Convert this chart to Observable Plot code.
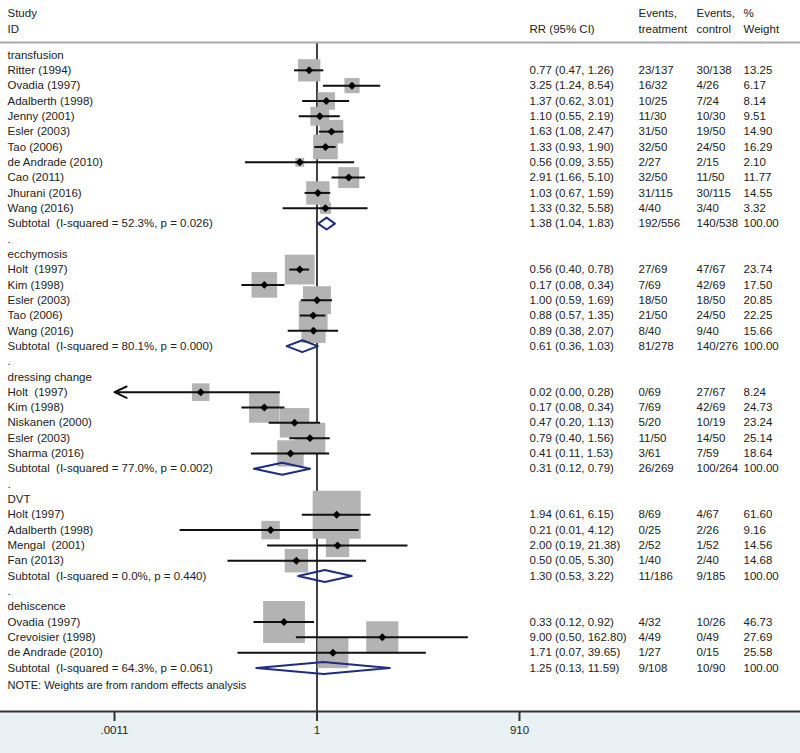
<!DOCTYPE html>
<html><head><meta charset="utf-8">
<script src="https://cdn.jsdelivr.net/npm/d3@7"></script>
<script src="https://cdn.jsdelivr.net/npm/@observablehq/plot@0.6"></script>
<style>
html,body{margin:0;padding:0;background:#fff;}
#chart svg text{white-space:pre;}
</style></head><body><div id="chart"></div>
<script>
// ---------- data ----------
const groupNames = ["transfusion", "ecchymosis", "dressing change", "DVT", "dehiscence"];
const studyNames = [
  ["Ritter (1994)", "Ovadia (1997)", "Adalberth (1998)", "Jenny (2001)", "Esler (2003)", "Tao (2006)", "de Andrade (2010)", "Cao (2011)", "Jhurani (2016)", "Wang (2016)"],
  ["Holt  (1997)", "Kim (1998)", "Esler (2003)", "Tao (2006)", "Wang (2016)"],
  ["Holt  (1997)", "Kim (1998)", "Niskanen (2000)", "Esler (2003)", "Sharma (2016)"],
  ["Holt (1997)", "Adalberth (1998)", "Mengal  (2001)", "Fan (2013)"],
  ["Ovadia (1997)", "Crevoisier (1998)", "de Andrade (2010)"]
];
const studyRR = [
  [0.77, 3.25, 1.37, 1.10, 1.63, 1.33, 0.56, 2.91, 1.03, 1.33],
  [0.56, 0.17, 1.00, 0.88, 0.89],
  [0.02, 0.17, 0.47, 0.79, 0.41],
  [1.94, 0.21, 2.00, 0.50],
  [0.33, 9.00, 1.71]
];
const studyLo = [
  [0.47, 1.24, 0.62, 0.55, 1.08, 0.93, 0.09, 1.66, 0.67, 0.32],
  [0.40, 0.08, 0.59, 0.57, 0.38],
  [0.00, 0.08, 0.20, 0.40, 0.11],
  [0.61, 0.01, 0.19, 0.05],
  [0.12, 0.50, 0.07]
];
const studyHi = [
  [1.26, 8.54, 3.01, 2.19, 2.47, 1.90, 3.55, 5.10, 1.59, 5.58],
  [0.78, 0.34, 1.69, 1.35, 2.07],
  [0.28, 0.34, 1.13, 1.56, 1.53],
  [6.15, 4.12, 21.38, 5.30],
  [0.92, 162.80, 39.65]
];
const studyTreat = [
  ["23/137", "16/32", "10/25", "11/30", "31/50", "32/50", "2/27", "32/50", "31/115", "4/40"],
  ["27/69", "7/69", "18/50", "21/50", "8/40"],
  ["0/69", "7/69", "5/20", "11/50", "3/61"],
  ["8/69", "0/25", "2/52", "1/40"],
  ["4/32", "4/49", "1/27"]
];
const studyCtrl = [
  ["30/138", "4/26", "7/24", "10/30", "19/50", "24/50", "2/15", "11/50", "30/115", "3/40"],
  ["47/67", "42/69", "18/50", "24/50", "9/40"],
  ["27/67", "42/69", "10/19", "14/50", "7/59"],
  ["4/67", "2/26", "1/52", "2/40"],
  ["10/26", "0/49", "0/15"]
];
const studyWeight = [
  [13.25, 6.17, 8.14, 9.51, 14.90, 16.29, 2.10, 11.77, 14.55, 3.32],
  [23.74, 17.50, 20.85, 22.25, 15.66],
  [8.24, 24.73, 23.24, 25.14, 18.64],
  [61.60, 9.16, 14.56, 14.68],
  [46.73, 27.69, 25.58]
];
const subLabels = [
  "Subtotal  (I-squared = 52.3%, p = 0.026)",
  "Subtotal  (I-squared = 80.1%, p = 0.000)",
  "Subtotal  (I-squared = 77.0%, p = 0.002)",
  "Subtotal  (I-squared = 0.0%, p = 0.440)",
  "Subtotal  (I-squared = 64.3%, p = 0.061)"
];
const subRR = [1.38, 0.61, 0.31, 1.30, 1.25];
const subLo = [1.04, 0.36, 0.12, 0.53, 0.13];
const subHi = [1.83, 1.03, 0.79, 3.22, 11.59];
const subTreat = ["192/556", "81/278", "26/269", "11/186", "9/108"];
const subCtrl = ["140/538", "140/276", "100/264", "9/185", "10/90"];
const subWeight = [100, 100, 100, 100, 100];
const noteText = "NOTE: Weights are from random effects analysis";
const headTop = ["Study", "", "Events,", "Events,", "%"];
const headBottom = ["ID", "RR (95% CI)", "treatment", "control", "Weight"];
const xTicks = [0.0011, 1, 910];
const xTickLabels = [".0011", "1", "910"];

// ---------- build rows ----------
const rows = [];
let idx = 0;
groupNames.forEach((g, gi) => {
  if (gi > 0) rows.push({i: idx++, type: "spacer", label: "."});
  rows.push({i: idx++, type: "group", label: g});
  studyNames[gi].forEach((s, k) => rows.push({
    i: idx++, type: "study", label: s, g: gi,
    rr: studyRR[gi][k], lo: studyLo[gi][k], hi: studyHi[gi][k],
    t: studyTreat[gi][k], c: studyCtrl[gi][k], w: studyWeight[gi][k]
  }));
  rows.push({
    i: idx++, type: "sub", label: subLabels[gi], g: gi,
    rr: subRR[gi], lo: subLo[gi], hi: subHi[gi],
    t: subTreat[gi], c: subCtrl[gi], w: subWeight[gi]
  });
});
const fmt = v => v.toFixed(2);
rows.forEach(r => {
  if (r.type === "study" || r.type === "sub") {
    r.ci = `${fmt(r.rr)} (${fmt(r.lo)}, ${fmt(r.hi)})`;
    r.wt = fmt(r.w);
  }
});
const xMin = xTicks[0];
const studies = rows.filter(r => r.type === "study");
const normal = studies.filter(r => r.lo >= xMin);
const clipped = studies.filter(r => r.lo < xMin);
const subs = rows.filter(r => r.type === "sub");
const numRows = rows.filter(r => r.type === "study" || r.type === "sub");
const halfH = 0.39;
const diamondPts = subs.flatMap(s => [
  {g: s.g, x: s.lo, y: s.i},
  {g: s.g, x: s.rr, y: s.i - halfH},
  {g: s.g, x: s.hi, y: s.i},
  {g: s.g, x: s.rr, y: s.i + halfH},
  {g: s.g, x: s.lo, y: s.i}
]);
const tickData = xTicks.map((v, k) => ({v, label: xTickLabels[k]}));

const FS = 11.5;
const TXT = "#222";
const cols = [
  {key: "ci", dx: 529},
  {key: "t", dx: 638},
  {key: "c", dx: 696},
  {key: "wt", dx: 743}
];
const headDx = [7, 529, 638, 696, 743];

const chart = Plot.plot({
  width: 800,
  height: 753,
  marginTop: 42,
  marginBottom: 42,
  marginLeft: 0,
  marginRight: 0,
  style: {
    fontFamily: "'Liberation Sans', Arial, Helvetica, sans-serif",
    fontSize: FS + "px",
    background: "linear-gradient(to bottom, #ffffff 0px, #ffffff 711px, #e9f1f4 711px, #e9f1f4 753px)",
    color: TXT
  },
  x: {type: "log", domain: [xTicks[0], xTicks[2]], range: [114, 519], axis: null},
  y: {domain: [0, 40], range: [54.5, 667.5], axis: null},
  r: {type: "sqrt", domain: [0, 100], range: [0, 34.5]},
  marks: [
    Plot.ruleX([1], {stroke: "#111", strokeWidth: 1.6}),
    Plot.frame({anchor: "top", stroke: "#a8a8a8", strokeWidth: 2}),
    Plot.frame({anchor: "bottom", stroke: "#333", strokeWidth: 2}),
    Plot.dot(studies, {x: "rr", y: "i", r: "w", symbol: "square", fill: "#b3b3b3", stroke: null}),
    Plot.ruleY(normal, {x1: "lo", x2: "hi", y: "i", stroke: "#111", strokeWidth: 2}),
    Plot.arrow(clipped, {x1: "hi", x2: () => xMin, y1: "i", y2: "i", stroke: "#111", strokeWidth: 2, headLength: 10, headAngle: 50}),
    Plot.dot(studies, {x: "rr", y: "i", r: 3.6, symbol: "diamond2", fill: "#000", stroke: null}),
    Plot.line(diamondPts, {x: "x", y: "y", z: "g", stroke: "#1f2c80", strokeWidth: 2, curve: "linear"}),
    Plot.text(rows, {y: "i", text: "label", frameAnchor: "left", dx: 7, textAnchor: "start", fill: TXT, fontSize: FS}),
    ...cols.map(c => Plot.text(numRows, {y: "i", text: c.key, frameAnchor: "left", dx: c.dx, textAnchor: "start", fill: TXT, fontSize: FS})),
    ...headTop.map((h, k) => Plot.text([h], {text: d => d, frameAnchor: "top-left", dx: headDx[k], dy: -34, textAnchor: "start", fill: TXT, fontSize: FS})),
    ...headBottom.map((h, k) => Plot.text([h], {text: d => d, frameAnchor: "top-left", dx: headDx[k], dy: -18, textAnchor: "start", fill: TXT, fontSize: FS})),
    Plot.text([noteText], {text: d => d, frameAnchor: "bottom-left", dx: 7, dy: -23, textAnchor: "start", fill: TXT, fontSize: 11}),
    Plot.axisX(xTicks, {tickFormat: () => "", tickSize: 10, tickPadding: 5, strokeWidth: 2, stroke: "#333", label: null}),
    Plot.text(tickData, {x: "v", text: "label", frameAnchor: "bottom", dy: 22, fill: TXT, fontSize: FS})
  ]
});
document.getElementById("chart").appendChild(chart);
</script>
</body></html>
